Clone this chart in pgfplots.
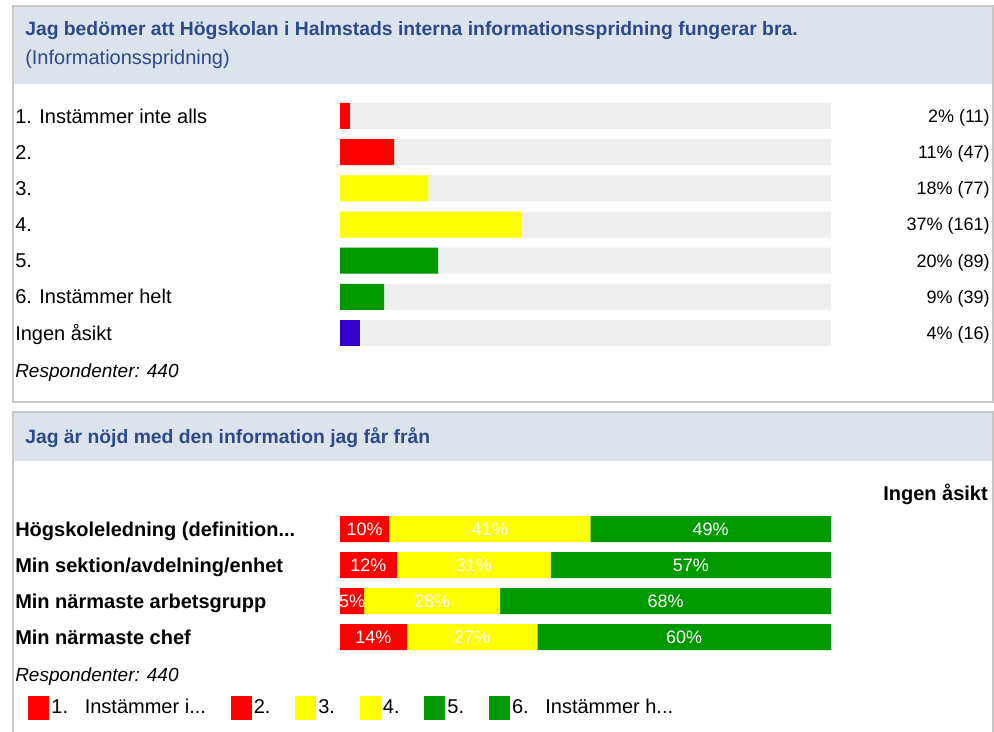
\documentclass[border=0pt]{standalone}
\usepackage{pgfplots}
\pgfplotsset{compat=1.18}
\usepackage{pgfplotstable}
\usepackage{fontspec}
\setmainfont{Liberation Sans}
\definecolor{hdrbg}{HTML}{DCE3EC}
\definecolor{hdrtxt}{HTML}{2B4A8B}
\definecolor{track}{HTML}{EEEEEE}
\definecolor{cred}{HTML}{FF0000}
\definecolor{cyel}{HTML}{FFFF00}
\definecolor{cgrn}{HTML}{009900}
\definecolor{cblu}{HTML}{3300CC}
\definecolor{frm}{HTML}{C8C8C8}

% panel 1: distribution (percent, label)
\pgfplotstableread{
pos full lab
0 100 2\%~(11)
1 100 11\%~(47)
2 100 18\%~(77)
3 100 37\%~(161)
4 100 20\%~(89)
5 100 9\%~(39)
6 100 4\%~(16)
}\distr

% panel 2: stacked shares
\pgfplotstableread{
pos r y g zero rl yl gl nal
0 10   41   49   0 10\% 41\% 49\% 5\%
1 11.6 31.3 57.1 0 12\% 31\% 57\% 3\%
2 4.9  27.7 67.4 0 5\%  28\% 68\% 4\%
3 13.6 26.6 59.8 0 14\% 27\% 60\% 4\%
}\resp

\newcommand{\lbl}{\fontsize{15}{18}\selectfont}
\newcommand{\num}{\fontsize{13.5}{16}\selectfont}
\newcommand{\ttl}{\fontsize{14.5}{17}\selectfont\bfseries}
\newcommand{\blbl}{\fontsize{15}{18}\selectfont\bfseries}

\begin{document}
\begin{tikzpicture}
\useasboundingbox (0,0) rectangle (745.5pt,-548.25pt);
\begin{scope}[x=0.75pt,y=-0.75pt]
  \fill[white] (0,0) rectangle (994,731);
  \fill[hdrbg] (13,7) rectangle (992,84);
  \draw[frm, line width=1.5pt] (12.5,6.5) rectangle (992.5,402);
  \fill[hdrbg] (13,413) rectangle (992,461);
  \draw[frm, line width=1.5pt] (12.5,735) -- (12.5,412) -- (992.5,412) -- (992.5,735);
  \node[anchor=base west, inner sep=0pt, text=hdrtxt, font=\ttl] at (25,36)
    {Jag bedömer att Högskolan i Halmstads interna informationsspridning fungerar bra.};
  \node[anchor=base west, inner sep=0pt, text=hdrtxt, font=\lbl] at (25,65)
    {(Informationsspridning)};
  \node[anchor=base west, inner sep=0pt, text=hdrtxt, font=\ttl] at (25,443)
    {Jag är nöjd med den information jag får från};
  \node[anchor=base west, inner sep=0pt, font=\fontsize{14.25}{17}\selectfont\itshape] at (15,377) {Respondenter: 440};
  \node[anchor=base west, inner sep=0pt, font=\fontsize{14.25}{17}\selectfont\itshape] at (15,681) {Respondenter: 440};
  \node[anchor=base east, inner sep=0pt, font=\blbl] at (988,500) {Ingen åsikt};
\end{scope}

\begin{axis}[
  at={(255pt,-73.43pt)}, anchor=north west,
  scale only axis, width=368.25pt, height=189.9pt,
  xbar, xmin=0, xmax=100, ymin=-0.5, ymax=6.5, y dir=reverse,
  clip=false,
  axis line style={draw=none}, major tick length=0pt,
  xtick=\empty, ytick={0,1,2,3,4,5,6},
  yticklabels={1. Instämmer inte alls, 2., 3., 4., 5., 6. Instämmer helt, Ingen åsikt},
  yticklabel style={anchor=west, xshift=-243.75pt, inner sep=0pt, font=\lbl,
    text height=10.7pt, text depth=0pt},
  every axis plot/.append style={bar shift=0pt, bar width=19.5pt, draw=none},
]
\addplot[fill=track, draw=none, bar shift=0pt, nodes near coords,
  point meta=explicit symbolic,
  every node near coord/.append style={anchor=east, xshift=119.25pt, inner sep=0pt,
    font=\num, text=black, text height=9.7pt, text depth=0pt}]
  table[x=full, y=pos, meta=lab] {\distr};
\addplot[fill=cred, draw=none, bar shift=0pt] coordinates {(2,0) (11,1)};
\addplot[fill=cyel, draw=none, bar shift=0pt] coordinates {(18,2) (37,3)};
\addplot[fill=cgrn, draw=none, bar shift=0pt] coordinates {(20,4) (9,5)};
\addplot[fill=cblu, draw=none, bar shift=0pt] coordinates {(4,6)};
\end{axis}

\begin{axis}[
  at={(255pt,-383.25pt)}, anchor=north west,
  scale only axis, width=368.25pt, height=108pt,
  xbar stacked, bar width=19.5pt, xmin=0, xmax=100, ymin=-0.5, ymax=3.5, y dir=reverse,
  clip=false,
  axis line style={draw=none}, major tick length=0pt,
  xtick=\empty, ytick={0,1,2,3},
  yticklabels={{Högskoleledning (definition.{}.{}.}, Min sektion/avdelning/enhet, Min närmaste arbetsgrupp, Min närmaste chef},
  yticklabel style={anchor=west, xshift=-243.75pt, inner sep=0pt, font=\blbl,
    text height=10.7pt, text depth=0pt},
  legend image code/.code={\fill[#1] (0pt,-8.6pt) rectangle (15pt,8.6pt);},
  legend style={at={(-0.6354,-0.3646)}, anchor=west, draw=none, fill=none,
    inner sep=0pt, legend columns=6, font=\lbl,
    /tikz/every even column/.append style={column sep=16.5pt}},
  segnode/.style={nodes near coords, point meta=explicit symbolic,
    every node near coord/.append style={anchor=center,
      inner sep=0pt, font=\num, text=white, text height=9.7pt, text depth=0pt}},
]
\addplot[fill=cred, draw=none, forget plot, segnode] table[x=r, y=pos, meta=rl] {\resp};
\addplot[fill=cyel, draw=none, forget plot, segnode] table[x=y, y=pos, meta=yl] {\resp};
\addplot[fill=cgrn, draw=none, forget plot, segnode] table[x=g, y=pos, meta=gl] {\resp};
\addplot[draw=none, fill=none, forget plot, nodes near coords, point meta=explicit symbolic,
  every node near coord/.append style={anchor=east, xshift=119.25pt,
    inner sep=0pt, font=\num, text=black, text height=9.7pt, text depth=0pt}]
  table[x=zero, y=pos, meta=nal] {\resp};
\addlegendimage{cred}\addlegendentry{1.~~~Instämmer i...}
\addlegendimage{cred}\addlegendentry{2.}
\addlegendimage{cyel}\addlegendentry{3.}
\addlegendimage{cyel}\addlegendentry{4.}
\addlegendimage{cgrn}\addlegendentry{5.}
\addlegendimage{cgrn}\addlegendentry{6.~~~Instämmer h...}
\end{axis}
\end{tikzpicture}
\end{document}
